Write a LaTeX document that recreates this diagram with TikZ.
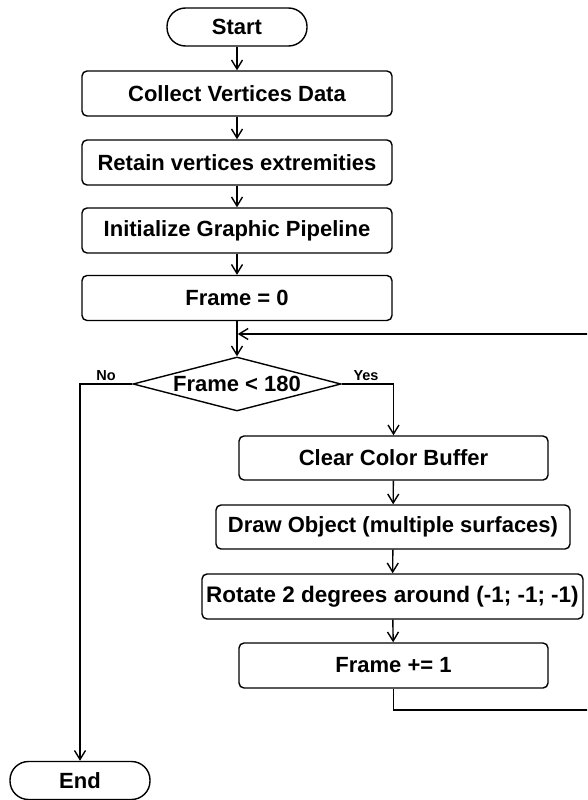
\documentclass[tikz,border=0pt]{standalone}
\usepackage{fontspec}
\setmainfont{Liberation Sans}
\usetikzlibrary{shapes.geometric,arrows.meta}
\begin{document}
\begin{tikzpicture}[x=1pt,y=-1pt,
  every node/.style={font=\fontsize{22}{24}\selectfont\bfseries, inner sep=0pt},
  proc/.style={draw, line width=1.4pt, rounded corners=5pt, minimum height=45pt},
  term/.style={draw, line width=1.4pt, rounded corners=18.5pt, minimum width=140pt, minimum height=38pt},
  dec/.style={draw, diamond, aspect=3.85, line width=1.4pt, minimum width=208pt, minimum height=54pt},
  lbl/.style={font=\fontsize{14.5}{16}\selectfont\bfseries},
  conn/.style={line width=1.4pt, -{Straight Barb[length=9pt,width=11pt,line width=1.4pt]}},
  wire/.style={line width=1.4pt}
]
\useasboundingbox (0,0) rectangle (587,800);
\clip (0,0) rectangle (587,800);
\node[term] (start) at (237,27) {Start};
\node[proc, minimum width=310pt] (collect) at (237,93.5) {Collect Vertices Data};
\node[proc, minimum width=310pt] (retain) at (237,162.5) {Retain vertices extremities};
\node[proc, minimum width=310pt] (init) at (237,230.5) {Initialize Graphic Pipeline};
\node[proc, minimum width=310pt] (f0) at (237,298) {Frame = 0};
\node[dec] (dia) at (237,384) {};
\node at (237,384) {Frame < 180};
\node[proc, minimum width=309pt, minimum height=44pt] (clear) at (393.5,458) {Clear Color Buffer};
\node[proc, minimum width=354pt, minimum height=44pt] (drawo) at (393,527) {Draw Object (multiple surfaces)};
\node[proc, minimum width=381pt] (rot) at (392.5,596.5) {\fontsize{22.5}{25}\selectfont Rotate 2 degrees around (-1; -1; -1)};
\node[proc, minimum width=309pt] (f1) at (393.5,665.5) {Frame += 1};
\node[term] (end) at (80,780.5) {End};
\node[lbl] (no) at (106,376) {No};
\node[lbl] (yes) at (366,376) {Yes};
\coordinate (j) at (237,334);
\coordinate (c1) at (393.5,710);
\coordinate (c2) at (592,710);
\coordinate (c3) at (592,334);
\draw[conn] (start) -- (collect);
\draw[conn] (collect) -- (retain);
\draw[conn] (retain) -- (init);
\draw[conn] (init) -- (f0);
\draw[conn] (f0) -- (dia);
\draw[conn] (dia.east) -| (clear.north);
\draw[conn] (dia.west) -| (end.north);
\draw[conn] (clear) -- (drawo);
\draw[conn] (drawo) -- (rot);
\draw[conn] (rot) -- (f1);
\draw[conn, shorten >=0.8pt] (f1.south) -- (c1) -- (c2) -- (c3) -- (j);
\end{tikzpicture}
\end{document}
